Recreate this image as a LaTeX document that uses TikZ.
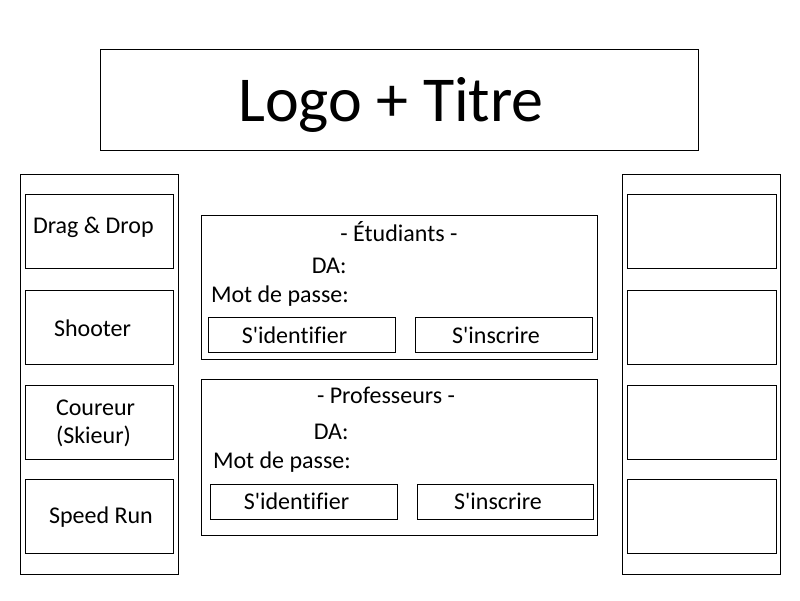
\documentclass[tikz,border=0pt]{standalone}
\usepackage{fontspec}
\setmainfont{Carlito}[Ligatures=NoCommon]
\newcommand\apos{\textquotesingle}
\begin{document}
\begin{tikzpicture}[x=1pt,y=-1pt,
  frame/.style={draw, line width=1pt, inner sep=0pt, outer sep=0pt, anchor=north west},
  lbl/.style={inner sep=0pt, outer sep=0pt, font=\fontsize{24}{24}\selectfont},
  title/.style={inner sep=0pt, outer sep=0pt, font=\fontsize{64}{64}\selectfont, anchor=base},
]
\useasboundingbox (0,0) rectangle (800,600);

% header
\node[frame, minimum width=598pt, minimum height=101pt] (header) at (100,49) {};
\node[title] (headertext) at (391,121) {Logo + Titre};

% left column: games
\node[frame, minimum width=158pt, minimum height=400pt] (leftcol) at (20,174) {};
\node[frame, minimum width=148pt, minimum height=74pt] (game1) at (25,194) {};
\node[frame, minimum width=148pt, minimum height=74pt] (game2) at (25,290) {};
\node[frame, minimum width=148pt, minimum height=74pt] (game3) at (25,385) {};
\node[frame, minimum width=148pt, minimum height=74pt] (game4) at (25,479) {};
\node[lbl, anchor=base west] (game1text) at (33,233) {Drag \& Drop};
\node[lbl, anchor=base west] (game2text) at (54,336) {Shooter};
\node[lbl, anchor=base west] (game3texta) at (56,415) {Coureur};
\node[lbl, anchor=base west] (game3textb) at (56,443) {(Skieur)};
\node[lbl, anchor=base west] (game4text) at (49,523) {Speed Run};

% right column
\node[frame, minimum width=158pt, minimum height=400pt] (rightcol) at (622,174) {};
\node[frame, minimum width=149pt, minimum height=74pt] (slot1) at (627,194) {};
\node[frame, minimum width=149pt, minimum height=74pt] (slot2) at (627,290) {};
\node[frame, minimum width=149pt, minimum height=74pt] (slot3) at (627,385) {};
\node[frame, minimum width=149pt, minimum height=74pt] (slot4) at (627,479) {};

% student login
\node[frame, minimum width=396pt, minimum height=144pt] (students) at (201,215) {};
\node[lbl, anchor=base] (studentstitle) at (399,241) {- Étudiants -};
\node[lbl, anchor=base east] (studentsda) at (346.5,273) {DA:};
\node[lbl, anchor=base west] (studentspw) at (211,302) {Mot de passe:};
\node[frame, minimum width=187pt, minimum height=35pt] (studentslogin) at (208,317) {};
\node[frame, minimum width=177pt, minimum height=35pt] (studentssignup) at (415,317) {};
\node[lbl, anchor=base] (studentslogintext) at (294.5,343) {S\apos identifier};
\node[lbl, anchor=base] (studentssignuptext) at (496,343) {S\apos inscrire};

% teacher login
\node[frame, minimum width=396pt, minimum height=156pt] (teachers) at (201,379) {};
\node[lbl, anchor=base] (teacherstitle) at (386,403) {- Professeurs -};
\node[lbl, anchor=base east] (teachersda) at (348.5,439) {DA:};
\node[lbl, anchor=base west] (teacherspw) at (213,468) {Mot de passe:};
\node[frame, minimum width=187pt, minimum height=35pt] (teacherslogin) at (210,484) {};
\node[frame, minimum width=176pt, minimum height=35pt] (teacherssignup) at (417,484) {};
\node[lbl, anchor=base] (teacherslogintext) at (296.5,509) {S\apos identifier};
\node[lbl, anchor=base] (teacherssignuptext) at (498,509) {S\apos inscrire};
\end{tikzpicture}
\end{document}
